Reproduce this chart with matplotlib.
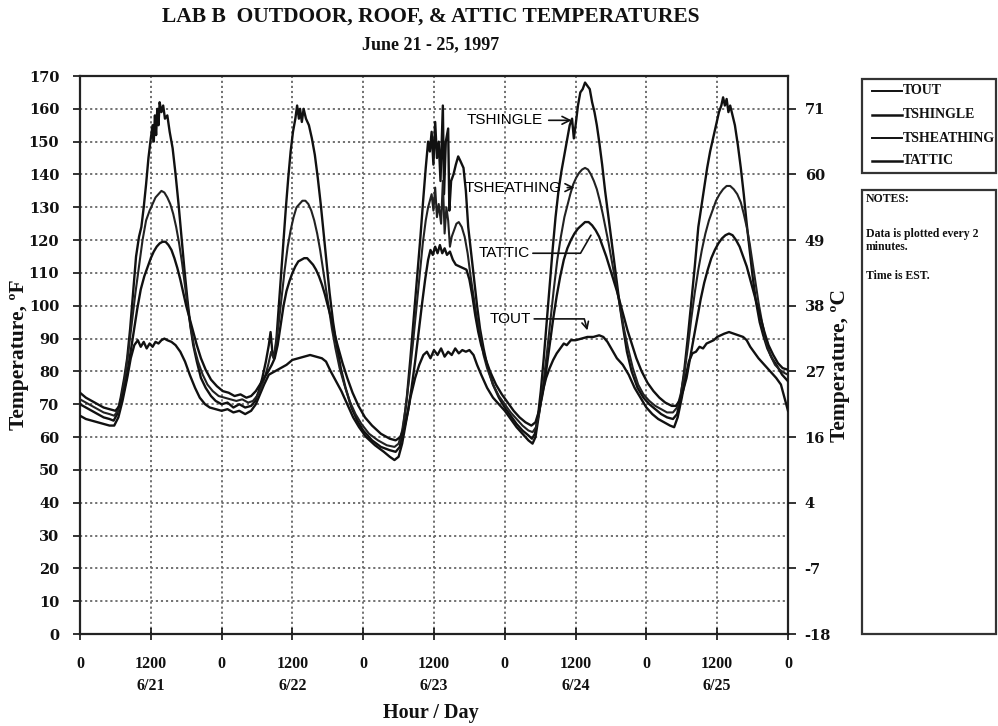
import matplotlib
matplotlib.use('Agg')
import matplotlib.pyplot as plt
import matplotlib.transforms as mtransforms
from matplotlib.lines import Line2D
from matplotlib.patches import Rectangle

# ---------------- data (hours from 0:00 on 6/21, EST; temperatures in deg F) ----------------
tout_h = [0, 1, 2, 3, 4, 5, 5.8, 6.5, 7.2, 8, 8.6, 9.2, 9.8, 10.3, 10.8, 11.3, 11.8, 12.3, 12.8, 13.3,
          13.8, 14.3, 14.8, 15.5, 16.2, 17, 17.8, 18.6, 19.5, 20.3, 21.2, 22, 23, 24, 25, 26, 27, 28, 29,
          29.8, 30.5, 31.2, 32, 33, 34, 35, 36, 37, 38, 39, 40, 41, 41.7, 42.5, 43.4, 44.3, 45.3, 46.3,
          47.3, 48.5, 50, 51.5, 52.5, 53.3, 54, 54.6, 55.3, 56, 56.8, 57.5, 58.2, 58.8, 59.4, 60, 60.6,
          61.2, 61.8, 62.4, 63, 63.6, 64.2, 64.8, 65.4, 66, 66.7, 67.3, 68, 69, 70, 71, 72, 73, 74, 75,
          76, 76.7, 77.2, 77.7, 78.3, 79, 79.6, 80.2, 80.8, 81.4, 82, 82.5, 83.2, 84, 85, 86, 87, 88,
          88.7, 89.4, 90.2, 91, 92, 93, 94, 95, 96, 97, 98, 99, 100, 100.7, 101.3, 102, 102.6, 103.2,
          103.8, 104.4, 105, 105.6, 106.2, 106.8, 107.4, 108, 108.6, 109.2, 110, 110.8, 111.6, 112.4,
          113, 113.6, 114.2, 115, 116, 117, 118, 118.8, 119.4, 120]
tout_f = [66.5, 65.5, 65, 64.5, 64, 63.5, 63.5, 66, 71, 78, 84, 88, 89.5, 87.5, 89, 87, 88.5, 87.5, 89, 88.5,
          89.5, 90, 89.5, 89, 88, 86, 83, 79, 75, 72, 70, 69, 68.5, 68, 68.5, 67.5, 68, 67, 68,
          70, 73, 76, 79, 80, 81, 82, 83.5, 84, 84.5, 85, 84.5, 84, 83, 80, 77, 74, 70, 66,
          63, 60, 57.5, 55.5, 54, 53, 54, 58, 65, 72, 78, 82, 85, 86, 84, 86.5, 85,
          87, 84.5, 86, 85, 87, 85.5, 86.5, 86, 86.5, 85, 82, 79, 75, 72, 70, 68, 65.5, 63, 61,
          59, 58, 60, 66, 73, 78, 81, 83.5, 85.5, 87, 88.5, 88, 89.5, 89.5, 90, 90.5, 90.5, 91,
          90.5, 89, 86.5, 84, 82, 79, 75, 72, 69, 67, 65.5, 64.5, 63.5, 63, 66, 72, 78, 83,
          85.5, 86, 87.5, 87, 88.5, 89, 89.5, 90.5, 91, 91.5, 92, 91.5, 91, 90.5,
          89.5, 87.5, 86, 84, 82, 80, 78, 76, 72, 68]

tshingle_h = [0, 1, 2, 3, 4, 5, 5.7, 6.3, 6.9, 7.5, 8, 8.5, 9, 9.5, 10, 10.4, 10.8, 11.2, 11.6, 12, 12.3,
              12.5, 12.7, 12.9, 13.1, 13.3, 13.5, 13.8, 14.1, 14.4, 14.8, 15.2, 15.7, 16.2, 16.7, 17.2,
              17.7, 18.2, 18.7, 19.2, 19.8, 20.5, 21.3, 22.2, 23, 24, 25, 26, 27, 28, 29, 29.7, 30.3,
              30.9, 31.5, 32, 32.3, 32.6, 32.9, 33.3, 33.7, 34.1, 34.5, 34.9, 35.3, 35.7, 36.1, 36.5,
              36.8, 37.1, 37.3, 37.6, 37.9, 38.3, 38.8, 39.3, 39.8, 40.3, 40.8, 41.3, 41.8, 42.3, 42.9,
              43.5, 44.2, 45, 46, 47, 48, 49.5, 51, 52.5, 53.5, 54.2, 54.8, 55.4, 56, 56.6, 57.2, 57.7,
              58.2, 58.6, 59, 59.3, 59.6, 59.9, 60.2, 60.5, 60.8, 61.1, 61.5, 61.7, 62, 62.4, 62.6,
              62.9, 63.3, 63.7, 64.1, 64.5, 65, 65.4, 65.8, 66.3, 66.8, 67.3, 67.8, 68.4, 69, 70, 71,
              72, 73, 74, 75, 76, 76.6, 77.1, 77.6, 78.1, 78.6, 79.1, 79.6, 80.1, 80.6, 81.1, 81.6,
              82.1, 82.6, 83, 83.4, 83.7, 84, 84.4, 84.8, 85.2, 85.6, 86, 86.4, 86.8, 87.2, 87.6, 88,
              88.5, 89, 89.5, 90, 90.5, 91, 91.5, 92, 92.7, 93.5, 94.5, 95.5, 96.5, 97.5, 98.5, 99.5,
              100.5, 101.2, 101.8, 102.4, 103, 103.6, 104.2, 104.8, 105.3, 105.8, 106.3, 106.8, 107.3,
              107.8, 108.3, 108.7, 109, 109.3, 109.6, 109.9, 110.2, 110.6, 111, 111.5, 112, 112.5,
              113, 113.5, 114, 114.6, 115.2, 115.8, 116.5, 117.3, 118.2, 119, 120]
tshingle_f = [70, 69, 68, 67, 66, 65.5, 65, 67, 72, 78, 84, 93, 104, 115, 121, 124, 130, 137, 145, 151, 155,
              150, 158, 152, 160, 155, 162, 159, 161, 157, 158, 153, 148, 140, 131, 121,
              111, 102, 94, 88, 83, 78, 75, 72.5, 71, 70, 70.5, 69, 70, 69, 69.5, 71, 74,
              78, 83, 88, 92, 86, 84, 90, 100, 110, 120, 130, 139, 147, 153, 157,
              161, 157, 160, 156, 160, 157, 155, 151, 146, 139, 131, 122, 113, 104, 95,
              88, 81, 75, 69, 65, 62, 59, 57, 56, 55.5, 57, 63, 72, 84, 97, 110, 121,
              133, 142, 150, 147, 153, 143, 156, 145, 150, 138, 161, 134, 150, 154, 129,
              138, 140, 143, 145.5, 144, 142, 135, 124, 116, 108, 100, 93, 87, 82, 76, 72,
              69, 66.5, 64, 62, 60.5, 59.5, 61, 66, 74, 84, 95, 106, 117, 127, 135, 141,
              146, 151, 155, 157, 151, 155, 161, 165, 166, 168, 167, 166, 162, 159, 155, 150,
              143, 135, 128, 121, 114, 107, 100, 94, 86, 80, 75, 72, 70, 68.5, 67, 66,
              65.5, 67, 72, 80, 90, 101, 112, 124, 130, 136, 142, 147, 151,
              155, 159, 161, 163.5, 161, 163, 159, 161, 158, 155, 149, 142, 134,
              125, 117, 109, 101, 95, 91, 87, 84, 81.5, 79, 77]

tsheathing_h = [0, 1, 2, 3, 4, 5, 5.8, 6.4, 7, 7.6, 8.2, 8.8, 9.4, 10, 10.6, 11.2, 11.8, 12.3, 12.8, 13.3,
                13.8, 14.3, 14.8, 15.3, 15.8, 16.3, 16.8, 17.3, 17.8, 18.3, 18.8, 19.4, 20, 20.8, 21.6,
                22.5, 23.5, 24.5, 25.5, 26.5, 27.5, 28.5, 29.3, 30, 30.7, 31.3, 31.9, 32.4, 32.8, 33.2,
                33.7, 34.2, 34.7, 35.2, 35.7, 36.2, 36.7, 37.2, 37.7, 38.2, 38.7, 39.2, 39.7, 40.2, 40.7,
                41.2, 41.7, 42.2, 42.7, 43.3, 44, 44.8, 45.7, 46.7, 47.7, 49, 50.5, 52, 53.3, 54, 54.6,
                55.2, 55.8, 56.4, 57, 57.6, 58.1, 58.6, 59, 59.3, 59.6, 59.9, 60.2, 60.5, 60.8, 61.2,
                61.5, 61.8, 62.1, 62.4, 62.7, 63, 63.4, 63.8, 64.2, 64.7, 65.2, 65.7, 66.2, 66.7, 67.2,
                67.8, 68.4, 69, 70, 71, 72, 73, 74, 75, 76, 76.7, 77.3, 77.9, 78.5, 79.1, 79.7, 80.3,
                80.9, 81.5, 82.1, 82.6, 83.1, 83.6, 84.1, 84.6, 85.1, 85.6, 86.1, 86.6, 87.1, 87.6, 88.1,
                88.6, 89.1, 89.6, 90.1, 90.6, 91.1, 91.6, 92.2, 92.9, 93.7, 94.6, 95.5, 96.5, 97.5, 98.5,
                99.5, 100.5, 101.2, 101.8, 102.4, 103, 103.6, 104.2, 104.8, 105.4, 106, 106.6, 107.2,
                107.8, 108.4, 109, 109.6, 110.2, 110.8, 111.4, 112, 112.5, 113, 113.5, 114, 114.5, 115,
                115.6, 116.3, 117, 117.8, 118.6, 119.4, 120]
tsheathing_f = [71.5, 70.5, 69.5, 68.5, 67.5, 67, 66.5, 68, 72, 78, 86, 95, 104, 112, 120, 126, 129, 131, 133, 134,
                135, 134.5, 133, 131, 128, 124, 119, 113, 106, 99, 93, 87, 83, 79, 76,
                74, 72.5, 72, 71.5, 71, 71.5, 70.5, 71, 72.5, 75, 78, 82, 86, 84, 88,
                95, 103, 111, 118, 123, 127, 130, 131, 132, 132, 131, 129, 126, 122, 117,
                111, 105, 99, 93, 87, 81, 76, 71, 67, 64, 61, 59, 57.5, 57, 58, 62,
                69, 78, 88, 99, 110, 119, 126, 130, 132, 134, 129, 136, 127, 131, 125,
                138, 122, 130, 126, 118, 121, 123, 125, 125.5, 124, 121, 116, 109, 103, 97,
                91, 85, 81, 76, 72.5, 70, 67.5, 65.5, 63.5, 62, 61.5, 63, 68, 76, 85, 95, 105,
                114, 121, 127, 130.5, 134, 137, 139, 140.5, 141.5, 142, 141.5, 140, 138, 135.5, 132,
                128, 123.5, 119, 114, 109, 104, 99, 93, 87, 81, 76, 73, 71, 69.5, 68.5,
                67.5, 67.5, 69, 73, 79, 87, 96, 104, 111, 117, 122, 126, 129,
                132, 134, 135.5, 136.5, 136.5, 135.5, 134, 131.5, 128, 124, 119, 113, 107, 101,
                95, 89, 85, 82, 80.5, 79.5, 79]

tattic_h = [0, 1, 2, 3, 4, 5, 6, 6.7, 7.3, 7.9, 8.5, 9.1, 9.7, 10.3, 10.9, 11.5, 12, 12.5, 13, 13.5, 14,
            14.5, 15, 15.5, 16, 16.5, 17, 17.5, 18, 18.6, 19.2, 19.8, 20.5, 21.3, 22.2, 23.2, 24.2, 25.2,
            26.2, 27.2, 28.2, 29, 29.8, 30.5, 31.2, 31.9, 32.5, 33, 33.5, 34, 34.5, 35, 35.5, 36, 36.5,
            37, 37.5, 38, 38.5, 39, 39.5, 40, 40.5, 41, 41.5, 42, 42.6, 43.2, 43.8, 44.5, 45.3, 46.2,
            47.2, 48.3, 49.5, 51, 52.5, 53.5, 54.3, 55, 55.6, 56.2, 56.8, 57.4, 58, 58.5, 59, 59.4,
            59.8, 60.2, 60.6, 61, 61.4, 61.8, 62.2, 62.7, 63.2, 63.7, 64.3, 64.9, 65.5, 66, 66.5, 67,
            67.5, 68, 68.7, 69.5, 70.5, 71.5, 72.5, 73.5, 74.5, 75.5, 76.5, 77.2, 77.8, 78.4, 79, 79.6,
            80.2, 80.8, 81.4, 82, 82.6, 83.2, 83.8, 84.4, 85, 85.6, 86.2, 86.8, 87.4, 88, 88.6, 89.2,
            89.8, 90.4, 91, 91.6, 92.2, 92.8, 93.5, 94.3, 95.2, 96.2, 97.2, 98.2, 99.2, 100.3, 101,
            101.6, 102.2, 102.8, 103.4, 104, 104.6, 105.2, 105.8, 106.4, 107, 107.6, 108.2, 108.8,
            109.4, 110, 110.6, 111.2, 111.8, 112.4, 113, 113.6, 114.2, 114.8, 115.4, 116, 116.7,
            117.5, 118.3, 119.1, 120]
tattic_f = [73.5, 72, 71, 70, 69, 68.5, 68, 69.5, 73, 78, 85, 92, 99, 105, 109, 112, 114.5, 116.5, 118, 119, 119.5,
            119.5, 118.5, 117, 114.5, 111.5, 108, 104, 100, 96, 92, 88, 84, 80.5, 77.5, 75.5, 74, 73.5,
            72.5, 73, 72, 72.5, 74, 76, 78, 80, 82, 84, 88, 94, 100, 104.5, 107.5, 110, 112,
            113.5, 114, 114.5, 114.5, 113.5, 112.5, 111, 109, 106.5, 103.5, 100, 96, 91, 87, 82.5, 78, 73.5,
            69.5, 66, 63.5, 61, 59.5, 59, 60, 63, 68, 75, 83, 92, 101, 108, 114, 117,
            115.5, 118, 116, 118.5, 116, 117.5, 115.5, 116.5, 114, 112.5, 112, 111.5, 111, 108, 103, 97,
            92, 88, 84, 80, 76, 73, 70.5, 68, 66, 64.5, 63.5, 64.5, 68, 73, 80, 88,
            96, 103, 109, 114, 117.5, 120, 122, 123.5, 124.5, 125.5, 125.5, 124.5, 123, 121, 118, 115,
            111.5, 108, 104.5, 100.5, 96.5, 92.5, 88.5, 84, 80, 76.5, 74, 72, 70.5, 69.5, 69.5,
            71, 74, 78, 84, 90, 96, 102, 107, 111, 114.5, 117, 119, 120.5,
            121.5, 122, 121.5, 120, 118, 115, 112, 108, 104, 100, 96, 92, 88,
            85, 82.5, 81, 80.5]

series_names = ['TOUT', 'TSHINGLE', 'TSHEATHING', 'TATTIC']
hour_ticks = [0, 12, 24, 36, 48, 60, 72, 84, 96, 108, 120]
hour_labels = ['0', '1200', '0', '1200', '0', '1200', '0', '1200', '0', '1200', '0']
date_pos = [12, 36, 60, 84, 108]
date_labels = ['6/21', '6/22', '6/23', '6/24', '6/25']
f_ticks = list(range(0, 171, 10))
c_tick_pos = [0, 20, 40, 60, 80, 100, 120, 140, 160]
c_tick_labels = ['-18', '-7', '4', '16', '27', '38', '49', '60', '71']

# ---------------- figure ----------------
W, H = 998, 726
fig = plt.figure(figsize=(W / 100, H / 100), dpi=100)
fig.patch.set_facecolor('white')

serif = ['Liberation Serif', 'DejaVu Serif']
wide = ['DejaVu Serif', 'Liberation Serif']
sans = ['Liberation Sans', 'DejaVu Sans']

L, R, T, B = 80, 788, 76, 634
ax = fig.add_axes([L / W, 1 - B / H, (R - L) / W, (B - T) / H])

lw = 1.7
ax.plot(tout_h, tout_f, color='#111111', lw=lw, zorder=3)
ax.plot(tshingle_h, tshingle_f, color='#111111', lw=lw, zorder=3)
ax.plot(tsheathing_h, tsheathing_f, color='#222222', lw=lw - 0.2, zorder=3)
ax.plot(tattic_h, tattic_f, color='#111111', lw=lw, zorder=3)

ax.set_xlim(0, 120)
ax.set_ylim(0, 170)
ax.set_xticks(hour_ticks)
ax.set_xticklabels(hour_labels)
ax.set_yticks(f_ticks)
ax.set_yticklabels([str(v) for v in f_ticks])
for lab in ax.get_xticklabels():
    lab.set_fontfamily(serif)
    lab.set_fontweight('bold')
    lab.set_fontsize(11.5)
for lab in ax.get_yticklabels():
    lab.set_fontfamily(wide)
    lab.set_fontweight('bold')
    lab.set_fontsize(10.5)
ax.tick_params(axis='y', direction='out', length=5, width=1.2, pad=10, colors='#111')
ax.tick_params(axis='x', direction='inout', length=8, width=1.2, pad=12, colors='#111')

ax.grid(True, which='major', color='#666666', linestyle=(0, (1.2, 1.6)), linewidth=1.3, zorder=1)
for s in ax.spines.values():
    s.set_linewidth(1.6)
    s.set_color('#222')

# date labels under the noon ticks
trans = mtransforms.blended_transform_factory(ax.transData, fig.transFigure)
for p, d in zip(date_pos, date_labels):
    ax.text(p, 1 - 686 / H, d, transform=trans, ha='center', va='center',
            fontfamily=serif, fontweight='bold', fontsize=11.5, color='#111')

# right (Celsius) axis
ax2 = ax.twinx()
ax2.set_ylim(0, 170)
ax2.set_yticks(c_tick_pos)
ax2.set_yticklabels(c_tick_labels)
for lab in ax2.get_yticklabels():
    lab.set_fontfamily(wide)
    lab.set_fontweight('bold')
    lab.set_fontsize(10.5)
ax2.tick_params(axis='y', direction='out', length=6, width=1.2, pad=6, colors='#111')
for s in ax2.spines.values():
    s.set_visible(False)

# annotations inside plot
arrow_kw = dict(arrowstyle='->', color='#111', lw=1.2, mutation_scale=14)
ax.annotate('TSHINGLE', xy=(83.8, 156.5), xytext=(65.6, 156.5), fontfamily=sans, fontsize=11,
            va='center', ha='left', arrowprops=arrow_kw, zorder=5)
ax.annotate('TSHEATHING', xy=(84.3, 136), xytext=(65.2, 136), fontfamily=sans, fontsize=11,
            va='center', ha='left', arrowprops=arrow_kw, zorder=5)
ax.annotate('TATTIC', xy=(86.6, 121.5), xytext=(67.6, 116), fontfamily=sans, fontsize=11,
            va='center', ha='left', zorder=5,
            arrowprops=dict(arrowstyle='-', color='#111', lw=1.2,
                            connectionstyle='angle,angleA=0,angleB=60,rad=0',
                            shrinkA=0, shrinkB=0))
ax.annotate('TOUT', xy=(86.0, 92.5), xytext=(69.5, 96), fontfamily=sans, fontsize=11,
            va='center', ha='left', zorder=5,
            arrowprops=dict(arrowstyle='->', color='#111', lw=1.2, mutation_scale=12,
                            connectionstyle='angle,angleA=0,angleB=-75,rad=0',
                            shrinkA=0, shrinkB=0))

# titles and axis labels
fig.text(431 / W, 1 - 17 / H, 'LAB B  OUTDOOR, ROOF, & ATTIC TEMPERATURES', ha='center', va='center',
         fontfamily=serif, fontweight='bold', fontsize=15.5, color='#111')
fig.text(431 / W, 1 - 45 / H, 'June 21 - 25, 1997', ha='center', va='center',
         fontfamily=serif, fontweight='bold', fontsize=13, color='#111')
fig.text(431 / W, 1 - 713 / H, 'Hour / Day', ha='center', va='center',
         fontfamily=serif, fontweight='bold', fontsize=14.5, color='#111')
fig.text(19 / W, 1 - 355 / H, 'Temperature, ºF', ha='center', va='center', rotation=90,
         fontfamily=serif, fontweight='bold', fontsize=15.5, color='#111')
fig.text(840 / W, 1 - 365 / H, 'Temperature, ºC', ha='center', va='center', rotation=90,
         fontfamily=serif, fontweight='bold', fontsize=15.5, color='#111')

# legend box
fig.patches.append(Rectangle((862 / W, 1 - 173 / H), 134 / W, 94 / H, transform=fig.transFigure,
                             fill=False, edgecolor='#333', linewidth=1.6))
leg_y = [91, 115, 138, 161]
leg_lw = [1.4, 1.8, 1.4, 1.8]
for name, yy, w in zip(series_names, leg_y, leg_lw):
    fig.lines.append(Line2D([872 / W, 902 / W], [1 - yy / H, 1 - yy / H], transform=fig.transFigure,
                            color='#111', lw=w))
    fig.text(903 / W, 1 - yy / H, name, ha='left', va='center', fontfamily=serif,
             fontweight='bold', fontsize=10, color='#111')

# notes box
fig.patches.append(Rectangle((862 / W, 1 - 634 / H), 134 / W, 444 / H, transform=fig.transFigure,
                             fill=False, edgecolor='#333', linewidth=1.6))
fig.text(866 / W, 1 - 199 / H, 'NOTES:', ha='left', va='center', fontfamily=serif,
         fontweight='bold', fontsize=8.5, color='#111')
fig.text(866 / W, 1 - 234 / H, 'Data is plotted every 2', ha='left', va='center', fontfamily=serif,
         fontweight='bold', fontsize=8.5, color='#111')
fig.text(866 / W, 1 - 247 / H, 'minutes.', ha='left', va='center', fontfamily=serif,
         fontweight='bold', fontsize=8.5, color='#111')
fig.text(866 / W, 1 - 276 / H, 'Time is EST.', ha='left', va='center', fontfamily=serif,
         fontweight='bold', fontsize=8.5, color='#111')

fig.savefig('out.png', dpi=100, facecolor='white')
